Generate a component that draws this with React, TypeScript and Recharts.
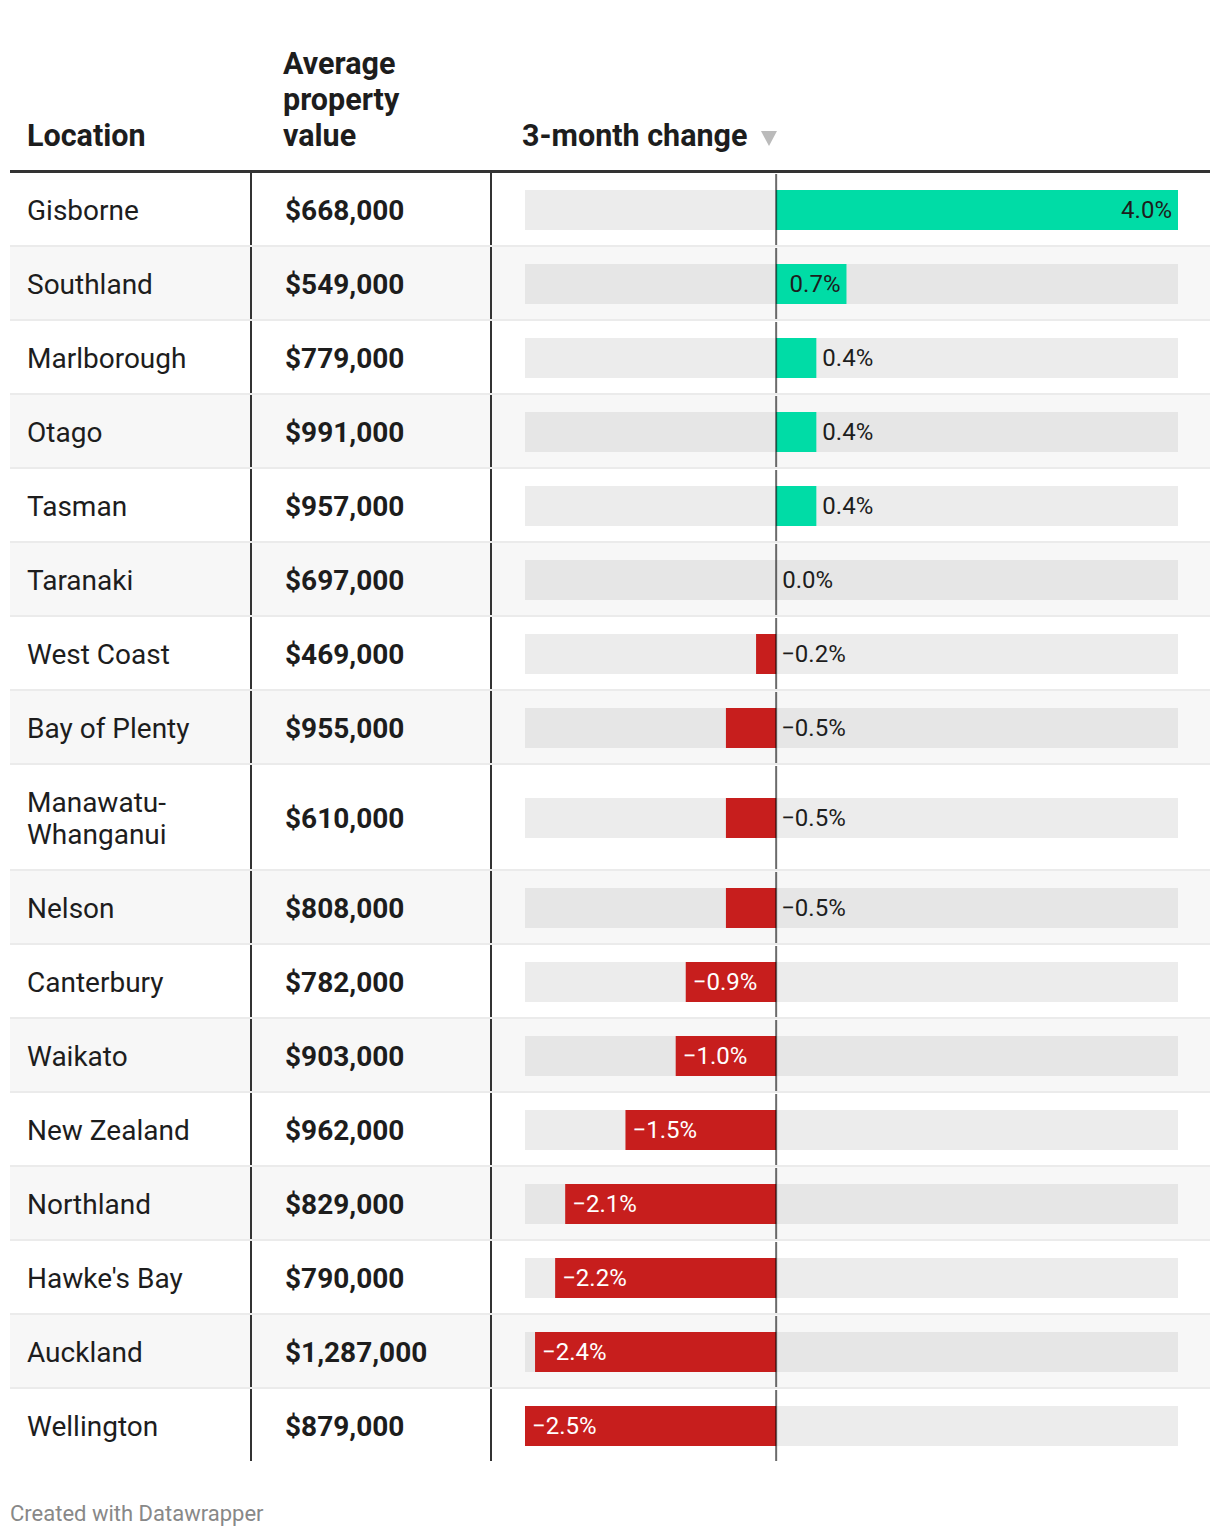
import React from 'react';
import { BarChart, Bar, XAxis, YAxis, ReferenceLine, LabelList } from 'recharts';

const headers = ['Location', 'Average property value', '3-month change'];
const locations = [
  'Gisborne', 'Southland', 'Marlborough', 'Otago', 'Tasman', 'Taranaki', 'West Coast',
  'Bay of Plenty', 'Manawatu-Whanganui', 'Nelson', 'Canterbury', 'Waikato', 'New Zealand',
  'Northland', "Hawke's Bay", 'Auckland', 'Wellington',
];
const propertyValues = [
  '$668,000', '$549,000', '$779,000', '$991,000', '$957,000', '$697,000', '$469,000',
  '$955,000', '$610,000', '$808,000', '$782,000', '$903,000', '$962,000', '$829,000',
  '$790,000', '$1,287,000', '$879,000',
];
const changes = [4.0, 0.7, 0.4, 0.4, 0.4, 0.0, -0.2, -0.5, -0.5, -0.5, -0.9, -1.0, -1.5, -2.1, -2.2, -2.4, -2.5];
const changeDomain = [-2.5, 4];
const footer = 'Created with Datawrapper';

const FONT = 'Roboto, "Noto Sans", sans-serif';
const TEXT = '#1d1d1d';
const GREEN = '#00dca6';
const RED = '#c71e1d';

const fmt = (v: number) => (v < 0 ? '\u2212' : '') + Math.abs(v).toFixed(1) + '%';

// Label drawn on the full-width track bar placed by Recharts; the change bar's
// extent is located within that track (the track spans the axis domain).
const makeLabel = (v: number) => (props: any) => {
  const { x, y, width, height } = props;
  const tx0 = Number(x);
  const tw = Number(width);
  const [d0, d1] = changeDomain;
  const pos = (val: number) => tx0 + (tw * (val - d0)) / (d1 - d0);
  const zeroX = pos(0);
  const endX = pos(v);
  const left = Math.min(zeroX, endX);
  const w = Math.abs(endX - zeroX);
  const text = fmt(v);
  const textW = text.length * 12.5;
  const fits = textW + 12 < w;
  const cy = Number(y) + Number(height) / 2;
  let tx = left + w + 5;
  let anchor: 'start' | 'end' = 'start';
  let fill = TEXT;
  if (v >= 0) {
    if (fits) {
      tx = left + w - 6;
      anchor = 'end';
    } else {
      tx = left + w + 6;
    }
  } else if (fits) {
    tx = left + 7;
    fill = '#ffffff';
  }
  return (
    <text key="lbl" x={tx} y={cy} textAnchor={anchor} dominantBaseline="central" fill={fill}
      style={{ fontFamily: FONT, fontSize: 24 }}>
      {text}
    </text>
  );
};

const RowChart = ({ name, value, height, shade }: { name: string; value: number; height: number; shade: boolean }) => {
  const data = [{ name, track: changeDomain, change: value }];
  return (
    <BarChart width={718} height={height} data={data} layout="vertical"
      margin={{ top: 1, right: 32, bottom: 0, left: 33 }} barCategoryGap={0} barGap={-40}>
      <XAxis type="number" domain={changeDomain} hide allowDataOverflow />
      <YAxis type="category" dataKey="name" hide />
      <Bar dataKey="track" barSize={40} fill={shade ? '#e6e6e6' : '#ececec'} isAnimationActive={false} />
      <Bar dataKey="change" barSize={40} fill={value >= 0 ? GREEN : RED} isAnimationActive={false} />
      <Bar dataKey="track" barSize={40} fill="none" isAnimationActive={false}>
        <LabelList dataKey="change" content={makeLabel(value)} />
      </Bar>
      <ReferenceLine x={0} stroke="#000000" strokeOpacity={0.58} strokeWidth={2} ifOverflow="extendDomain" />
    </BarChart>
  );
};

export default function App() {
  return (
    <div style={{ position: 'absolute', left: 0, top: 0, width: 1220, height: 1538, background: '#fff', fontFamily: FONT, color: TEXT }}>
      <div style={{ position: 'absolute', left: 10, top: 0, width: 1200 }}>
        <div style={{ display: 'flex', height: 170, alignItems: 'flex-end', boxSizing: 'border-box', paddingBottom: 16, fontWeight: 700, fontSize: 30.5, lineHeight: '36px' }}>
          <div style={{ width: 242, paddingLeft: 17, boxSizing: 'border-box' }}>{headers[0]}</div>
          <div style={{ width: 240, paddingLeft: 31, paddingRight: 50, boxSizing: 'border-box' }}>{headers[1]}</div>
          <div style={{ width: 718, paddingLeft: 30, boxSizing: 'border-box', display: 'flex', alignItems: 'center' }}>
            <span>{headers[2]}</span>
            <svg width={16} height={15} style={{ marginLeft: 13, marginTop: 4 }}>
              <polygon points="0,0 16,0 8,15" fill="#bbbbbb" />
            </svg>
          </div>
        </div>
        <div style={{ height: 3, background: '#333333' }} />
        {locations.map((loc, i) => {
          const last = i === locations.length - 1;
          const h = loc.includes('-') ? 104 : 72;
          const shade = i % 2 === 1;
          return (
            <div key={loc} style={{ display: 'flex', height: h + (last ? 0 : 2), boxSizing: 'border-box', borderBottom: last ? 'none' : '2px solid #ebebeb', background: shade ? '#f7f7f7' : '#ffffff' }}>
              <div style={{ width: 242, height: h, boxSizing: 'border-box', borderRight: '2px solid #333', paddingLeft: 17, paddingRight: 30, paddingTop: 3, display: 'flex', alignItems: 'center', fontSize: 28, lineHeight: '32px' }}>
                {loc}
              </div>
              <div style={{ width: 240, height: h, boxSizing: 'border-box', borderRight: '2px solid #333', paddingLeft: 33, paddingTop: 3, display: 'flex', alignItems: 'center', fontSize: 28, fontWeight: 700 }}>
                {propertyValues[i]}
              </div>
              <div style={{ width: 718, height: h }}>
                <RowChart name={loc} value={changes[i]} height={h} shade={shade} />
              </div>
            </div>
          );
        })}
      </div>
      <div style={{ position: 'absolute', left: 10, top: 1500, fontSize: 22, color: '#888888', lineHeight: '28px' }}>{footer}</div>
    </div>
  );
}
